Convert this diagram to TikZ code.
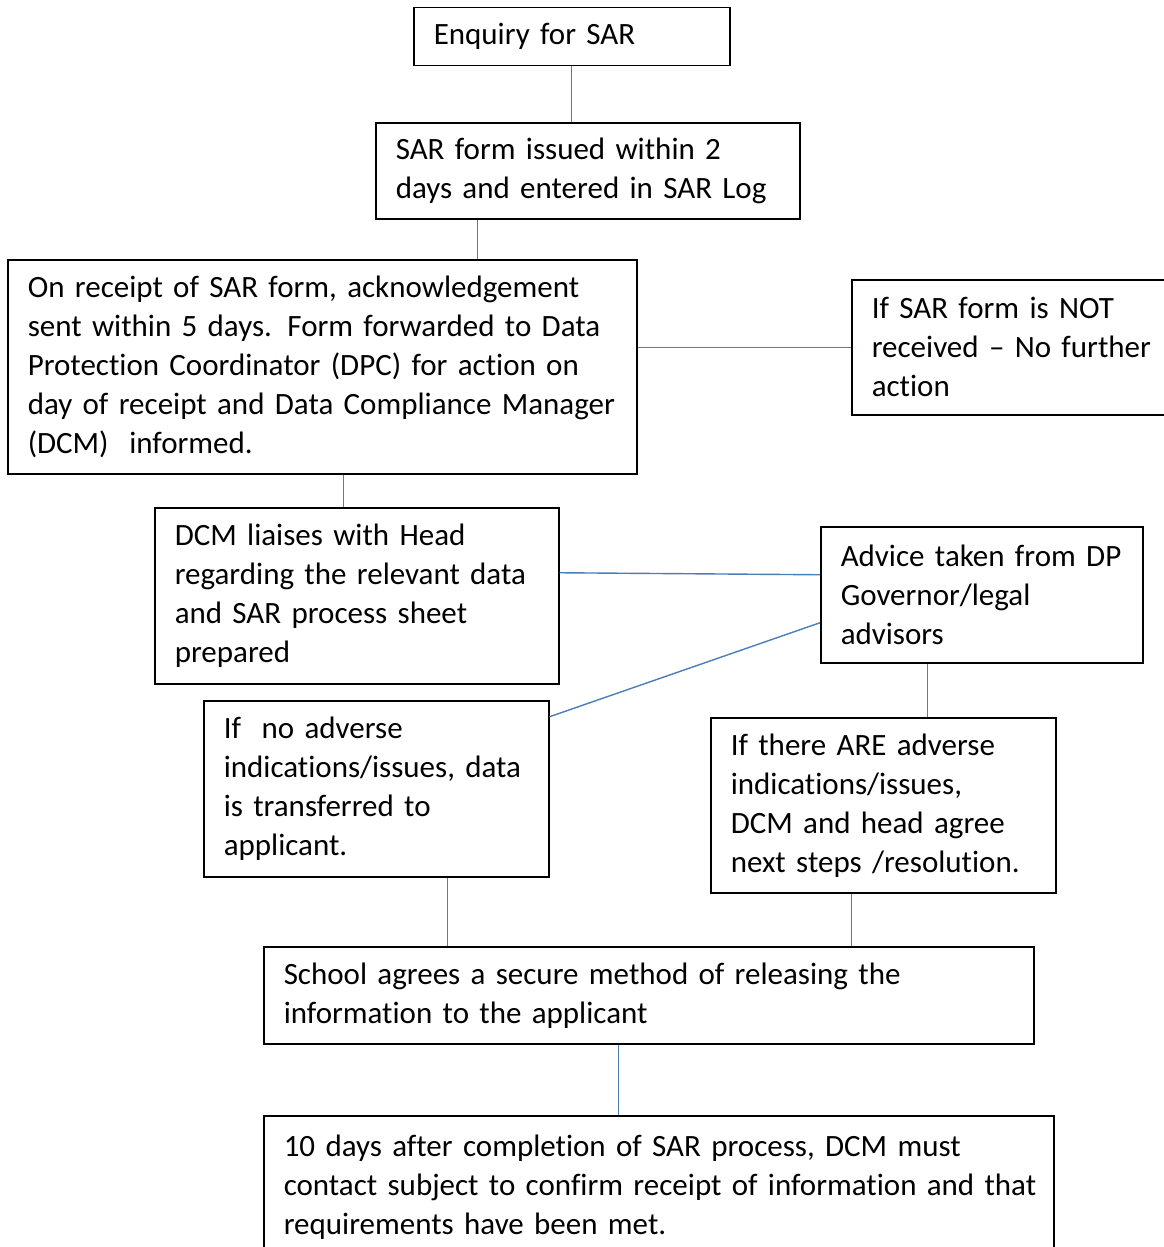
\documentclass[tikz,border=0pt]{standalone}
\usepackage{fontspec}
\setmainfont{Carlito}[Ligatures=NoCommon]
\definecolor{linkblue}{HTML}{4A7EBB}
\definecolor{boxblack}{HTML}{000000}
\hyphenpenalty=10000

\begin{document}
\begin{tikzpicture}[
    x=1pt, y=-1pt,
    % ── Node styles ──────────────────────────────────────────────────────
    stage/.style={
        draw=boxblack, rectangle, anchor=north west,
        line width=1.5pt, align=left,
        inner xsep=20pt, inner ysep=4pt,
        font=\fontsize{31}{39}\selectfont
    },
    % ── Connector style ──────────────────────────────────────────────────
    link/.style={
        draw=linkblue, line width=1.4pt
    }
]

\clip (0,0) rectangle (1164,1247);

% ═══════════════════════════════════════════════════════════════════════════
% Boxes
% ═══════════════════════════════════════════════════════════════════════════

% 1. Enquiry
\node[stage, text width=276pt, minimum height=58pt] (enquiry) at (413,7)
    {Enquiry for SAR};

% 2. Form issued
\node[stage, text width=384pt, minimum height=96pt] (sarform) at (375,122)
    {SAR form issued within 2\\days and entered in SAR Log};

% 3. Receipt of form
\node[stage, text width=589pt, minimum height=214pt] (receipt) at (7,259)
    {On receipt of SAR form, acknowledgement\\
     sent within 5 days. Form forwarded to Data\\
     Protection Coordinator (DPC) for action on\\
     day of receipt and Data Compliance Manager\\
     (DCM)~ informed.};

% Not received
\node[stage, text width=284pt, minimum height=135pt] (notrec) at (851,279)
    {If SAR form is NOT\\received -- No further\\action};

% 4. DCM liaises
\node[stage, text width=364pt, minimum height=176pt] (dcm) at (154,507)
    {DCM liaises with Head\\regarding the relevant data\\
     and SAR process sheet\\prepared};

% Advice
\node[stage, text width=282pt, minimum height=136pt] (advice) at (820,526)
    {Advice taken from DP\\Governor/legal\\advisors};

% ═══════════════════════════════════════════════════════════════════════════
% Two outcome branches
% ═══════════════════════════════════════════════════════════════════════════

% Left — no issues
\node[stage, text width=305pt, minimum height=176pt] (noadv) at (203,700)
    {If~ no adverse\\indications/issues, data\\
     is transferred to\\applicant.};

% Right — issues
\node[stage, text width=305pt, minimum height=175pt] (adverse) at (710,717)
    {If there ARE adverse\\indications/issues,\\
     DCM and head agree\\next steps /resolution.};

% 5. Release
\node[stage, text width=730pt, minimum height=97pt] (school) at (263,946)
    {School agrees a secure method of releasing the\\
     information to the applicant};

% 6. Follow-up
\node[stage, text width=750pt, minimum height=142pt] (final) at (263,1115)
    {10 days after completion of SAR process, DCM must\\
     \mbox{contact subject to confirm receipt of information and that}\\
     requirements have been met.};

% ═══════════════════════════════════════════════════════════════════════════
% Connectors
% ═══════════════════════════════════════════════════════════════════════════
\draw[link] (enquiry.south) -- (enquiry.south |- sarform.north);
\draw[link] ([xshift=-110pt]sarform.south)
    -- ([xshift=-110pt]sarform.south |- receipt.north);
\draw[link] (notrec.west) -- (notrec.west -| receipt.east);
\draw[link] ([xshift=-13pt]dcm.north |- receipt.south)
    -- ([xshift=-13pt]dcm.north);

% DCM and advice
\draw[link] ([yshift=23pt]dcm.east) -- ([yshift=20pt]advice.west);
\draw[link] ([yshift=-28pt]advice.west) -- ([yshift=72pt]noadv.east);
\draw[link] ([xshift=-54pt]advice.south)
    -- ([xshift=-54pt]advice.south |- adverse.north);

% Branches to release
\draw[link] ([xshift=71.5pt]noadv.south)
    -- ([xshift=71.5pt]noadv.south |- school.north);
\draw[link] ([xshift=-31.5pt]adverse.south)
    -- ([xshift=-31.5pt]adverse.south |- school.north);
\draw[link] ([xshift=-30pt]school.south)
    -- ([xshift=-30pt]school.south |- final.north);

\end{tikzpicture}
\end{document}
